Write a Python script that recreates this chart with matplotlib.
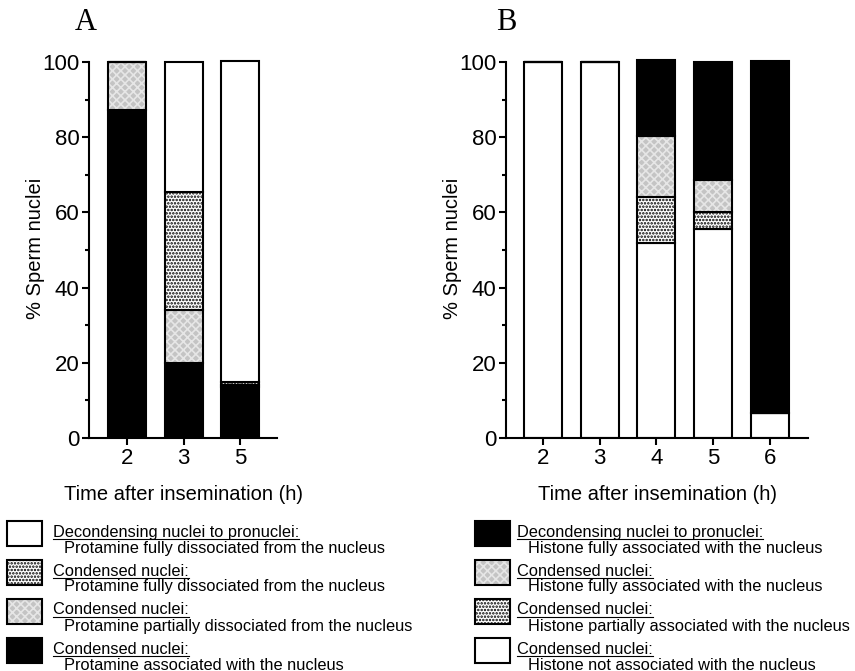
import numpy as np
import matplotlib
matplotlib.use("Agg")
import matplotlib.pyplot as plt
from matplotlib.patches import Rectangle
from matplotlib.lines import Line2D

plt.rcParams['font.family'] = ['Liberation Sans', 'DejaVu Sans']
plt.rcParams['hatch.linewidth'] = 1.2

# panel A data (bottom -> top)
times_a = ['2', '3', '5']
a_assoc = [87.2, 20.0, 13.5]
a_partial = [12.8, 14.0, 0.5]
a_full = [0.0, 31.5, 1.0]
a_decond = [0.0, 34.5, 85.3]

# panel B data (bottom -> top)
times_b = ['2', '3', '4', '5', '6']
b_not = [100.0, 100.0, 51.8, 55.5, 6.6]
b_partial = [0.0, 0.0, 12.2, 4.5, 0.0]
b_full = [0.0, 0.0, 16.3, 8.6, 0.0]
b_decond = [0.0, 0.0, 20.2, 31.4, 93.7]

legend_a = [("Decondensing nuclei to pronuclei:", "Protamine fully dissociated from the nucleus"),
            ("Condensed nuclei:", "Protamine fully dissociated from the nucleus"),
            ("Condensed nuclei:", "Protamine partially dissociated from the nucleus"),
            ("Condensed nuclei:", "Protamine associated with the nucleus")]
legend_b = [("Decondensing nuclei to pronuclei:", "Histone fully associated with the nucleus"),
            ("Condensed nuclei:", "Histone fully associated with the nucleus"),
            ("Condensed nuclei:", "Histone partially associated with the nucleus"),
            ("Condensed nuclei:", "Histone not associated with the nucleus")]

# fill styles: (facecolor, hatch, hatchcolor)
WHITE = ('white', None, None)
BLACK = ('black', None, None)
DOTS = ('white', '.....', 'black')
GRAY = ('#c4c4c4', 'xxxx', '#e6e6e6')


def draw_stack(ax, x, heights, styles, width=0.67):
    bottom = np.zeros(len(x))
    for h, (fc, hatch, hc) in zip(heights, styles):
        h = np.asarray(h)
        if hatch:
            ax.bar(x, h, width, bottom=bottom, color=fc, edgecolor=hc, hatch=hatch, linewidth=0)
            ax.bar(x, h, width, bottom=bottom, fill=False, edgecolor='black', linewidth=1.5)
        else:
            ax.bar(x, h, width, bottom=bottom, color=fc, edgecolor='black', linewidth=1.5)
        bottom = bottom + h


def style_axes(ax, labels, xlim):
    ax.set_xlim(*xlim)
    ax.set_ylim(0, 101)
    ax.set_xticks(range(len(labels)))
    ax.set_xticklabels(labels)
    ax.set_yticks(range(0, 101, 20))
    ax.set_yticks(range(10, 100, 20), minor=True)
    for s in ['top', 'right']:
        ax.spines[s].set_visible(False)
    for s in ['left', 'bottom']:
        ax.spines[s].set_linewidth(1.5)
    ax.spines['left'].set_bounds(0, 100)
    ax.tick_params(axis='both', which='major', length=5, width=1.5, labelsize=16, pad=2)
    ax.tick_params(axis='y', which='minor', length=3, width=1.5)
    ax.set_ylabel('% Sperm nuclei', fontsize=14.5, labelpad=-2)
    ax.set_xlabel('Time after insemination (h)', fontsize=14.5, labelpad=12)


fig = plt.figure(figsize=(8.55, 6.71), dpi=100)
axA = fig.add_axes([89 / 855, 1 - 438 / 671, (277 - 89) / 855, 376 / 671 * 1.01])
axB = fig.add_axes([506 / 855, 1 - 438 / 671, (808 - 506) / 855, 376 / 671 * 1.01])

draw_stack(axA, np.arange(3), [a_assoc, a_partial, a_full, a_decond], [BLACK, GRAY, DOTS, WHITE])
draw_stack(axB, np.arange(5), [b_not, b_partial, b_full, b_decond], [WHITE, DOTS, GRAY, BLACK])
style_axes(axA, times_a, (-0.67, 2.65))
style_axes(axB, times_b, (-0.65, 4.67))

fig.text(86 / 855, 1 - 23 / 671, 'A', family='Liberation Serif', fontsize=22, ha='center', va='center')
fig.text(506 / 855, 1 - 23 / 671, 'B', family='Liberation Serif', fontsize=22, ha='center', va='center')


def draw_legend(x_box, x_text, items, styles):
    W, H = fig.get_size_inches() * fig.dpi
    under = []
    for i, ((head, sub), (fc, hatch, hc)) in enumerate(zip(items, styles)):
        top = 521 + i * 39
        if hatch:
            fig.add_artist(Rectangle((x_box / W, 1 - (top + 25) / H), 35 / W, 25 / H,
                                     transform=fig.transFigure, facecolor=fc, edgecolor=hc,
                                     hatch=hatch, linewidth=0))
        fig.add_artist(Rectangle((x_box / W, 1 - (top + 25) / H), 35 / W, 25 / H,
                                 transform=fig.transFigure, facecolor=fc if not hatch else 'none',
                                 edgecolor='black', linewidth=1.5))
        t = fig.text((x_text) / W, 1 - (top + 11) / H, head, fontsize=11.8, va='center', ha='left')
        under.append(t)
        fig.text((x_text + 11) / W, 1 - (top + 27) / H, sub, fontsize=11.8, va='center', ha='left')
    return under


heads = draw_legend(7, 53, legend_a, [WHITE, DOTS, GRAY, BLACK])
heads += draw_legend(475, 517, legend_b, [BLACK, GRAY, DOTS, WHITE])

fig.canvas.draw()
r = fig.canvas.get_renderer()
inv = fig.transFigure.inverted()
for t in heads:
    bb = t.get_window_extent(r)
    (x0, y0), (x1, _) = inv.transform([(bb.x0, bb.y0 + 1), (bb.x1, bb.y0 + 1)])
    fig.add_artist(Line2D([x0, x1], [y0, y0], transform=fig.transFigure, color='black', linewidth=0.8))

fig.savefig('out.png', dpi=100)
